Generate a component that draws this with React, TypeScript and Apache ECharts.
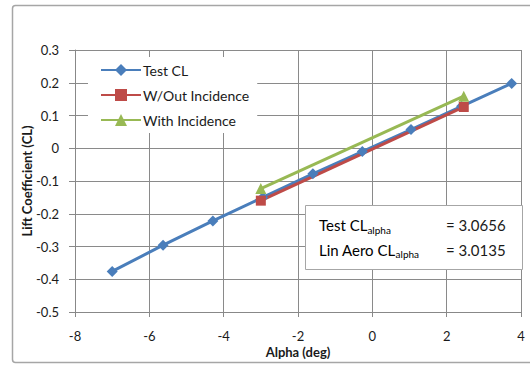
import React, { useEffect, useRef } from "react";
import * as echarts from "echarts";

const testAlpha = [-7, -5.63, -4.29, -2.95, -1.6, -0.27, 1.04, 2.4, 3.75];
const testCL = [-0.376, -0.296, -0.222, -0.15, -0.078, -0.01, 0.057, 0.128, 0.198];
const woAlpha = [-3.0, 2.46];
const woCL = [-0.16, 0.126];
const withAlpha = [-3.0, 2.46];
const withCL = [-0.123, 0.159];
const seriesNames = ["Test CL", "W/Out Incidence", "With Incidence"];
const boxLabels = ["Test CL", "Lin Aero CL"];
const boxValues = ["= 3.0656", "= 3.0135"];

const FONT = "Lato";

const pairs = (xs: number[], ys: number[]) => xs.map((x, i) => [x, ys[i]]);

export default function App() {
  const ref = useRef<HTMLDivElement>(null);
  useEffect(() => {
    if (!ref.current) return;
    const chart = echarts.init(ref.current, undefined, { renderer: "svg" });
    const lineSeries = (name: string, data: number[][], color: string, symbol: string, size: number) => ({
      name,
      type: "line",
      data,
      symbol,
      symbolSize: size,
      lineStyle: { color, width: 3 },
      itemStyle: { color },
      z: 3,
    });
    chart.setOption({
      animation: false,
      backgroundColor: "#fff",
      textStyle: { fontFamily: FONT },
      grid: { left: 75, top: 50, width: 446, height: 262, containLabel: false },
      xAxis: {
        type: "value",
        min: -8,
        max: 4,
        interval: 2,
        name: "Alpha (deg)",
        nameLocation: "middle",
        nameGap: 33,
        nameMoveOverlap: false,
        nameTextStyle: { fontFamily: FONT, fontSize: 13, fontWeight: "bold", color: "#1a1a1a" },
        axisLine: { onZero: false, lineStyle: { color: "#888", width: 1 } },
        axisTick: { show: true, length: 5, lineStyle: { color: "#888" } },
        axisLabel: { margin: 17, fontFamily: FONT, fontSize: 13, color: "#1a1a1a" },
        splitLine: { show: true, lineStyle: { color: "#8a8a8a", width: 1 } },
      },
      yAxis: {
        type: "value",
        min: -0.5,
        max: 0.3,
        interval: 0.1,
        name: "Lift Coefficient (CL)",
        nameLocation: "middle",
        nameGap: 42,
        nameMoveOverlap: false,
        nameTextStyle: { fontFamily: FONT, fontSize: 13, fontWeight: "bold", color: "#1a1a1a" },
        axisLine: { show: true, onZero: false, lineStyle: { color: "#888", width: 1 } },
        axisTick: { show: true, length: 6, lineStyle: { color: "#888" } },
        axisLabel: {
          margin: 16,
          fontFamily: FONT,
          fontSize: 13,
          color: "#1a1a1a",
          formatter: (v: number) => String(parseFloat(v.toFixed(1))),
        },
        splitLine: { show: true, lineStyle: { color: "#8a8a8a", width: 1 } },
      },
      legend: {
        orient: "vertical",
        left: 88,
        top: 57,
        backgroundColor: "#fff",
        padding: [6, 8, 6, 12],
        itemWidth: 40,
        itemHeight: 15,
        itemGap: 11,
        textStyle: { fontFamily: FONT, fontSize: 14, color: "#1a1a1a", padding: [0, 0, 0, -3] },
        data: seriesNames,
      },
      series: [
        lineSeries(seriesNames[0], pairs(testAlpha, testCL), "#4A7EBB", "diamond", 11),
        lineSeries(seriesNames[1], pairs(woAlpha, woCL), "#BE4B48", "rect", 10),
        lineSeries(seriesNames[2], pairs(withAlpha, withCL), "#98B954", "triangle", 11),
      ],
      graphic: [
        {
          type: "rect",
          shape: { x: 12.5, y: 5.5, width: 530, height: 357, r: 3 },
          style: { fill: "none", stroke: "#a6a6a6", lineWidth: 1.5 },
          silent: true,
          z: -1,
        },
        {
          type: "rect",
          shape: { x: 305.5, y: 205.5, width: 217, height: 64 },
          style: { fill: "#fff", stroke: "#a6a6a6", lineWidth: 1 },
          z: 10,
        },
        ...boxLabels.map((lab, i) => ({
          type: "text",
          x: 319,
          y: 225 + i * 24.5,
          z: 11,
          style: {
            text: `{a|${lab}}{s|alpha}`,
            verticalAlign: "middle",
            rich: {
              a: { fontFamily: FONT, fontSize: 15, color: "#1a1a1a" },
              s: { fontFamily: FONT, fontSize: 10, color: "#1a1a1a", padding: [9, 0, 0, 0] },
            },
          },
        })),
        ...boxValues.map((v, i) => ({
          type: "text",
          x: 446,
          y: 225 + i * 24.5,
          z: 11,
          style: { text: v, fontFamily: FONT, fontSize: 15, fill: "#1a1a1a", verticalAlign: "middle" },
        })),
      ],
    });
    return () => chart.dispose();
  }, []);
  return <div ref={ref} style={{ position: "absolute", left: 0, top: 0, width: 530, height: 365 }} />;
}
